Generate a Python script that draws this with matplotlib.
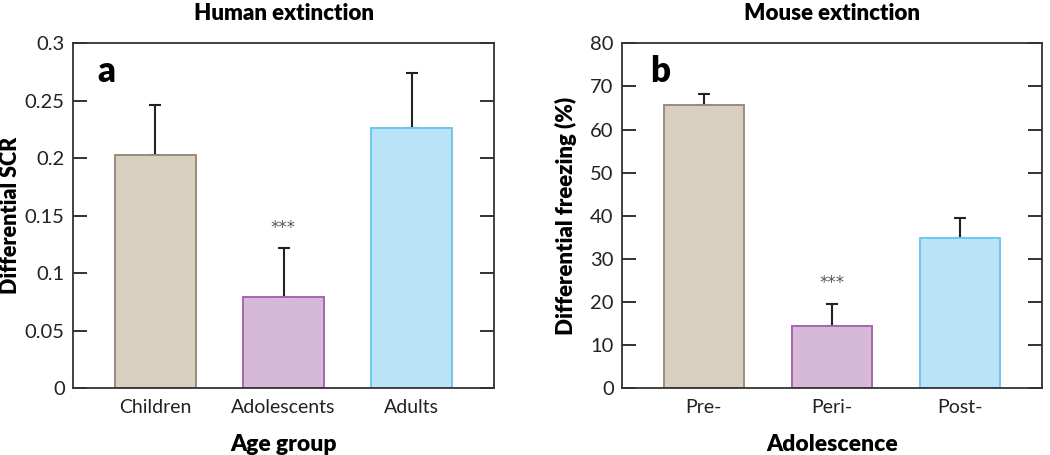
import matplotlib
matplotlib.use("Agg")
import matplotlib.pyplot as plt
import numpy as np

plt.rcParams['font.family'] = ['Lato', 'DejaVu Sans']

# Data
human_groups = ["Children", "Adolescents", "Adults"]
human_scr = [0.203, 0.079, 0.226]
human_err = [0.043, 0.043, 0.048]

mouse_groups = ["Pre-", "Peri-", "Post-"]
mouse_freezing = [65.7, 14.5, 34.8]
mouse_err = [2.6, 5.1, 4.6]

human_yticks = [0, 0.05, 0.1, 0.15, 0.2, 0.25, 0.3]
human_yticklabels = ["0", "0.05", "0.1", "0.15", "0.2", "0.25", "0.3"]
mouse_yticks = [0, 10, 20, 30, 40, 50, 60, 70, 80]

fills = ["#d9cfc1", "#d6b9d8", "#b9e4f8"]
edges = ["#9c8a7c", "#a765b3", "#6ec6f0"]

W, H = 1050, 455
fig = plt.figure(figsize=(W / 100, H / 100), dpi=100)

def px_axes(l, r, t, b):
    return fig.add_axes([l / W, 1 - b / H, (r - l) / W, (b - t) / H])

def style(ax, yticks, ylabels, ymax):
    ax.set_ylim(0, ymax)
    ax.set_xlim(-0.64, 2.64)
    ax.set_yticks(yticks)
    ax.set_yticklabels(ylabels)
    ax.tick_params(axis='y', direction='in', left=True, right=True, length=10,
                   width=1.3, labelsize=14.5, pad=6, colors='#222222', labelcolor='#222222')
    ax.tick_params(axis='x', length=0, labelsize=14, pad=8, labelcolor='#222222')
    for s in ax.spines.values():
        s.set_linewidth(1.3)
        s.set_color('#333333')

def draw(ax, groups, vals, errs, star_y):
    x = np.arange(len(groups))
    ax.bar(x, vals, width=0.63, color=fills, edgecolor=edges, linewidth=1.4, zorder=2)
    ax.errorbar(x, vals, yerr=[np.zeros(len(errs)), errs], fmt='none',
                ecolor='#222222', elinewidth=1.5, capsize=4, capthick=1.5, zorder=1)
    ax.set_xticks(x)
    ax.set_xticklabels(groups)
    ax.text(1, star_y, "***", ha='center', va='center', fontsize=12, color='#555555',
            family='DejaVu Sans')

ax1 = px_axes(73, 494, 43.3, 388.3)
draw(ax1, human_groups, human_scr, human_err, 0.139)
style(ax1, human_yticks, human_yticklabels, 0.3)
ax1.set_title("Human extinction", fontsize=16, fontweight='heavy', pad=17)
ax1.set_xlabel("Age group", fontsize=16.5, fontweight='heavy', labelpad=13)
ax1.set_ylabel("Differential SCR", fontsize=15.5, fontweight='heavy')
ax1.yaxis.set_label_coords(-0.124, 0.5)
ax1.text(0.057, 0.888, "a", transform=ax1.transAxes, fontsize=25, fontweight='heavy',
         va='baseline', ha='left')

ax2 = px_axes(622, 1042, 43.3, 388.3)
draw(ax2, mouse_groups, mouse_freezing, mouse_err, 24.5)
style(ax2, mouse_yticks, [str(v) for v in mouse_yticks], 80)
ax2.set_title("Mouse extinction", fontsize=16, fontweight='heavy', pad=17)
ax2.set_xlabel("Adolescence", fontsize=16.5, fontweight='heavy', labelpad=13)
ax2.set_ylabel("Differential freezing (%)", fontsize=16, fontweight='heavy')
ax2.yaxis.set_label_coords(-0.108, 0.5)
ax2.text(0.067, 0.888, "b", transform=ax2.transAxes, fontsize=25, fontweight='heavy',
         va='baseline', ha='left')

fig.savefig("out.png", dpi=100)
